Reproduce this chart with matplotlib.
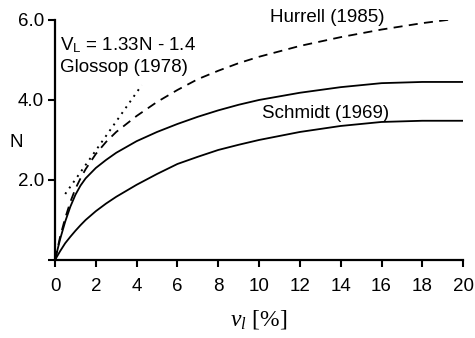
import matplotlib
matplotlib.use("Agg")
import matplotlib.pyplot as plt

plt.rcParams['font.family'] = ['Liberation Sans', 'DejaVu Sans']
plt.rcParams['mathtext.fontset'] = 'custom'
plt.rcParams['mathtext.rm'] = 'Liberation Sans'
plt.rcParams['mathtext.it'] = 'Liberation Serif:italic'

# values
vl = [0, 0.25, 0.5, 0.75, 1, 1.25, 1.5, 2, 2.5, 3, 4, 5, 6, 7, 8, 9, 10, 12, 14, 16, 18, 20]
n_upper = [0, 0.52, 0.96, 1.33, 1.63, 1.86, 2.04, 2.3, 2.5, 2.68, 2.97, 3.2, 3.4, 3.58, 3.74, 3.88, 4.0,
           4.18, 4.32, 4.42, 4.45, 4.45]
n_schmidt = [0, 0.22, 0.42, 0.58, 0.73, 0.87, 1.0, 1.22, 1.41, 1.58, 1.88, 2.15, 2.4, 2.58, 2.75, 2.88, 3.0,
             3.2, 3.35, 3.45, 3.48, 3.48]
n_hurrell = [0, 0.58, 1.05, 1.45, 1.78, 2.04, 2.27, 2.65, 2.95, 3.2, 3.6, 3.95, 4.25, 4.52, 4.73, 4.92, 5.08,
             5.35, 5.57, 5.76, 5.92, 6.05]
vl_glossop = [0.5, 4.25]
n_glossop = [1.65, 4.37]

xticks = [0, 2, 4, 6, 8, 10, 12, 14, 16, 18, 20]
yticks = [0, 2, 4, 6]
ytick_labels = ['', '2.0', '4.0', '6.0']

fig = plt.figure(figsize=(4.75, 3.38), dpi=100)
ax = fig.add_axes([0.1158, 0.2308, 0.8592, 0.7102])

ax.plot(vl, n_upper, color='black', lw=1.3)
ax.plot(vl, n_schmidt, color='black', lw=1.3)
ax.plot(vl, n_hurrell, color='black', lw=1.3, dashes=(5, 3.5))
ax.plot(vl_glossop, n_glossop, color='black', lw=1.4, dashes=(1, 2.6))

ax.text(10.55, 6.07, 'Hurrell (1985)', fontsize=13.5, va='center')
ax.text(10.15, 3.67, 'Schmidt (1969)', fontsize=13.5, va='center')
ax.text(0.25, 5.37, r'V$_\mathregular{L}$ = 1.33N - 1.4', fontsize=13.5, va='center')
ax.text(0.25, 4.82, 'Glossop (1978)', fontsize=13.5, va='center')

ax.set_xlim(0, 20)
ax.set_ylim(0, 6)
ax.set_xticks(xticks)
ax.set_yticks(yticks)
ax.set_yticklabels(ytick_labels)
ax.tick_params(direction='out', length=5, width=1.5, labelsize=13.5)
ax.tick_params(axis='x', pad=8)
ax.tick_params(axis='y', pad=3)

for side in ['top', 'right']:
    ax.spines[side].set_visible(False)
for side in ['left', 'bottom']:
    ax.spines[side].set_linewidth(1.6)

ax.set_ylabel('N', fontsize=13.5, rotation=0, va='center', ha='center')
ax.yaxis.set_label_coords(-0.096, 0.49)
ax.set_xlabel(r'$v_l$ [%]', fontsize=17, family='Liberation Serif')
ax.xaxis.set_label_coords(0.5, -0.2)

fig.savefig('out.png', dpi=100)
